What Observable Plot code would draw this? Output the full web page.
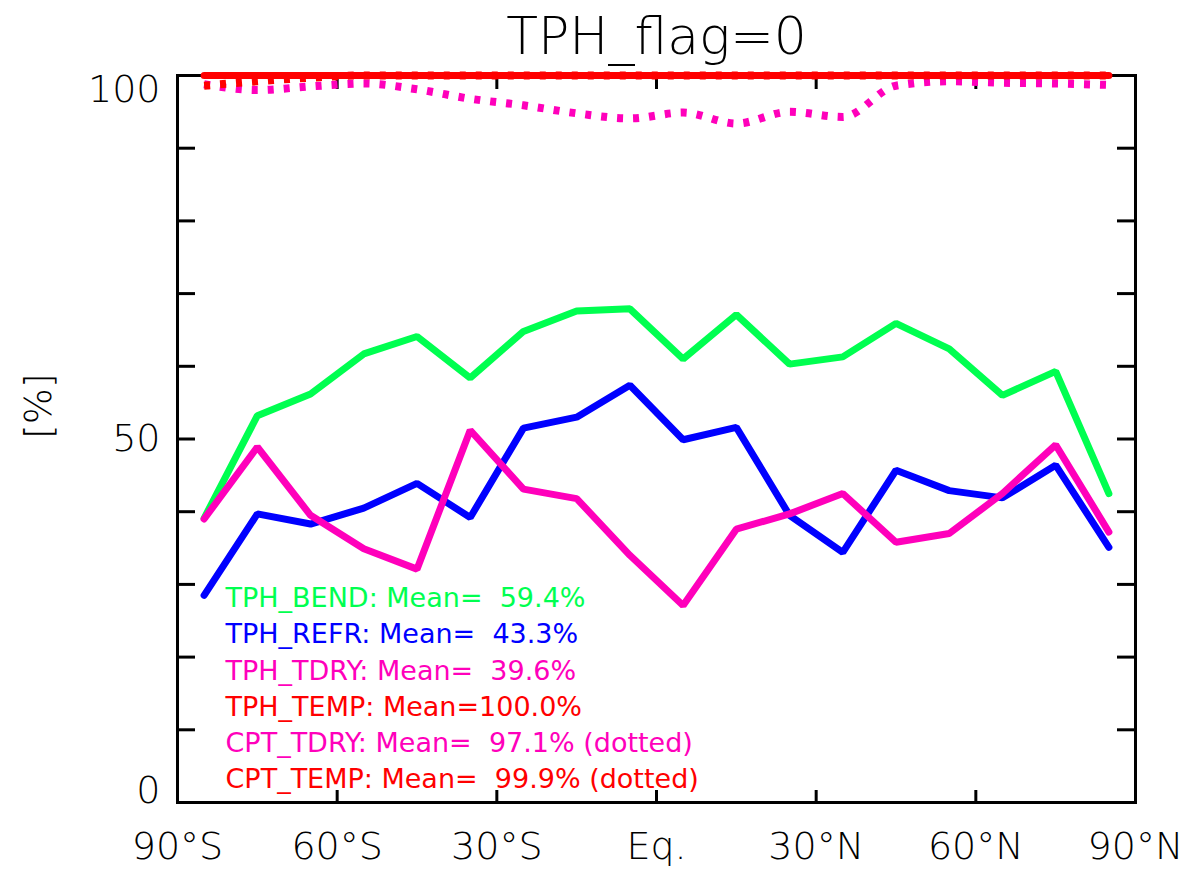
<!DOCTYPE html>
<html>
<head>
<meta charset="utf-8">
<script src="https://cdn.jsdelivr.net/npm/d3@7"></script>
<script src="https://cdn.jsdelivr.net/npm/@observablehq/plot@0.6"></script>
<style>
  html, body { margin: 0; padding: 0; background: #fff; }
  #chart svg { display: block; }
</style>
</head>
<body>
<div id="chart"></div>
<script>
// ---- data ----
const lat = [-85, -75, -65, -55, -45, -35, -25, -15, -5, 5, 15, 25, 35, 45, 55, 65, 75, 85];
const tphBend = [39.1, 53.2, 56.2, 61.7, 64.1, 58.4, 64.8, 67.6, 67.9, 61.0, 67.1, 60.3, 61.3, 65.9, 62.4, 56.0, 59.3, 42.5];
const tphRefr = [28.5, 39.7, 38.3, 40.5, 43.9, 39.2, 51.5, 53.0, 57.4, 49.9, 51.6, 39.5, 34.4, 45.7, 42.9, 41.9, 46.4, 35.1];
const tphTdry = [39.0, 48.9, 39.5, 34.9, 32.1, 51.2, 43.1, 41.8, 34.0, 27.1, 37.6, 39.7, 42.5, 35.8, 37.0, 42.5, 49.2, 37.2];
const tphTemp = [100, 100, 100, 100, 100, 100, 100, 100, 100, 100, 100, 100, 100, 100, 100, 100, 100, 100];
const cptTdry = [98.8, 98.0, 98.5, 98.9, 98.1, 96.8, 95.9, 94.8, 94.1, 94.9, 93.4, 95.0, 94.3, 98.6, 99.2, 99.0, 98.9, 98.7];
const cptTemp = [98.6, 99.2, 99.7, 100, 100, 100, 100, 100, 100, 100, 100, 100, 100, 100, 100, 100, 100, 100];

const legendLabels = [
  "TPH_BEND: Mean=\u200759.4%",
  "TPH_REFR: Mean=\u200743.3%",
  "TPH_TDRY: Mean=\u200739.6%",
  "TPH_TEMP: Mean=100.0%",
  "CPT_TDRY: Mean=\u200797.1% (dotted)",
  "CPT_TEMP: Mean=\u200799.9% (dotted)"
];
const legendColors = ["#00ff50", "#0000ff", "#ff00bb", "#ff0000", "#ff00bb", "#ff0000"];

const xTickVals = [-90, -60, -30, 0, 30, 60, 90];
const xTickLabels = ["90°S", "60°S", "30°S", "Eq.", "30°N", "60°N", "90°N"];
const xInnerTicks = [-60, -30, 0, 30, 60];
const yLabelVals = [0, 50, 100];
const yLabelAnchors = ["bottom", "middle", "top"];
const yMinorTicks = [10, 20, 30, 40, 50, 60, 70, 80, 90];
const title = "TPH_flag=0";
const yTitle = "[%]";

// ---- layout ----
const W = 1192, H = 873;
const mL = 177, mR = 57, mT = 75, mB = 71;
const pw = W - mL - mR, ph = H - mT - mB;
const FONT = "'DejaVu Sans', 'Liberation Sans', sans-serif";

const rows = lat.map((x, i) => ({x, bend: tphBend[i], refr: tphRefr[i], tdry: tphTdry[i], temp: tphTemp[i], cTdry: cptTdry[i], cTemp: cptTemp[i]}));

const lineW = 7;
const chart = Plot.plot({
  width: W, height: H,
  marginLeft: mL, marginRight: mR, marginTop: mT, marginBottom: mB,
  style: {fontFamily: FONT, background: "#fff", overflow: "visible"},
  x: {domain: [-90, 90], axis: null},
  y: {domain: [0, 100], axis: null},
  marks: [
    // frame & ticks
    Plot.frame({stroke: "black", strokeWidth: 3}),
    Plot.tickY(yMinorTicks, {y: d => d, stroke: "black", strokeWidth: 3, insetRight: pw - 18}),
    Plot.tickY(yMinorTicks, {y: d => d, stroke: "black", strokeWidth: 3, insetLeft: pw - 18}),
    Plot.tickX(xInnerTicks, {x: d => d, stroke: "black", strokeWidth: 3, insetTop: ph - 12}),
    Plot.tickX(xInnerTicks, {x: d => d, stroke: "black", strokeWidth: 3, insetBottom: ph - 14}),
    // axis labels
    Plot.axisX(xTickVals, {anchor: "bottom", tickSize: 0, tickPadding: 30, fontSize: 38, fontWeight: 200, label: null,
      tickFormat: d => xTickLabels[xTickVals.indexOf(d)], fill: "black"}),
    ...yLabelVals.map((v, i) => Plot.text([v], {
      y: d => d, text: d => String(d), frameAnchor: "left", dx: -17, textAnchor: "end",
      lineAnchor: yLabelAnchors[i], fontSize: 38, fontWeight: 200, fill: "black"
    })),
    Plot.text([yTitle], {frameAnchor: "left", dx: -139, rotate: -90, fontSize: 38, fontWeight: 200, fill: "black", text: d => d}),
    Plot.text([title], {frameAnchor: "top", dy: -38, lineAnchor: "middle", fontSize: 52, fontWeight: 200, fill: "black", text: d => d}),
    // data lines
    Plot.line(rows, {x: "x", y: "bend", stroke: legendColors[0], strokeWidth: lineW, strokeLinejoin: "miter"}),
    Plot.line(rows, {x: "x", y: "refr", stroke: legendColors[1], strokeWidth: lineW, strokeLinejoin: "miter"}),
    Plot.line(rows, {x: "x", y: "tdry", stroke: legendColors[2], strokeWidth: lineW, strokeLinejoin: "miter"}),
    Plot.line(rows, {x: "x", y: "cTdry", stroke: legendColors[4], strokeWidth: 8, strokeDasharray: "6,10", curve: "monotone-x", strokeLinecap: "butt"}),
    Plot.line(rows, {x: "x", y: "cTemp", stroke: legendColors[5], strokeWidth: 8, strokeDasharray: "6,10", curve: "monotone-x", strokeLinecap: "butt"}),
    Plot.line(rows, {x: "x", y: "temp", stroke: legendColors[3], strokeWidth: lineW}),
    // legend
    ...legendLabels.map((t, i) => Plot.text([t], {
      text: d => d, frameAnchor: "bottom-left", dx: 48, dy: -204 + 36.2 * i,
      textAnchor: "start", lineAnchor: "middle", fontSize: 27, fill: legendColors[i]
    }))
  ]
});
document.getElementById("chart").appendChild(chart);
</script>
</body>
</html>
